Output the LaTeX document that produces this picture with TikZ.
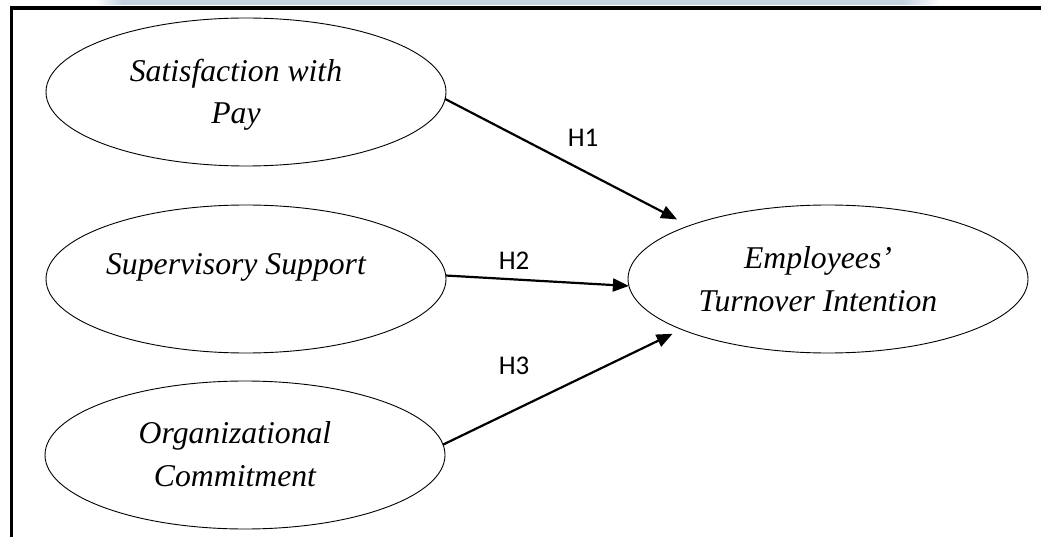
\documentclass[tikz,border=0pt]{standalone}
\usepackage{fontspec}
\setmainfont{Liberation Serif}
\newfontfamily\hfont{Carlito}
\usetikzlibrary{shapes.geometric,arrows.meta}
\definecolor{barblue}{RGB}{197,211,224}
\begin{document}
\begin{tikzpicture}[x=1pt,y=-1pt,
  ov/.style={ellipse,draw,line width=0.9pt,minimum width=400pt,minimum height=148pt,inner sep=0pt,outer sep=0pt},
  ttl/.style={font=\fontsize{31.7}{42.5}\selectfont\itshape,align=center,inner sep=0pt},
  hyp/.style={font=\hfont\fontsize{27}{32}\selectfont,inner sep=0pt},
  link/.style={line width=2.2pt,-{Triangle[length=16pt,width=13pt]}}]
\useasboundingbox (0,0) rectangle (1041,537);
% top bar and frame
\shade[left color=white,right color=barblue] (95,0) rectangle (122,5);
\fill[barblue] (122,0) rectangle (903,5);
\shade[left color=barblue,right color=white] (903,0) rectangle (940,5);
\draw[line width=3.5pt,line join=miter] (11.5,537) -- (11.5,8) -- (1041,8);
% ellipses
\node[ov] (sat) at (246,92) {};
\node[ov] (sup) at (246,279) {};
\node[ov] (org) at (245,455) {};
\node[ov] (emp) at (828,279) {};
\node[ttl] (satT) at (236,95) {Satisfaction with\\Pay};
\node[ttl] (supT) at (236,267) {Supervisory Support};
\node[ttl] (orgT) at (235,454) {Organizational\\Commitment};
\node[ttl] (empT) at (818,279) {Employees’\\Turnover Intention};
% connectors
\draw[link,shorten >=13.7pt] (sat.-2) -- (emp.159.5);
\draw[link] (sup.1) -- (emp.182);
\draw[link,shorten >=10pt] (org.3.7) -- (emp.199.9);
\node[hyp] (h1) at (583,138) {H1};
\node[hyp] (h2) at (514,261) {H2};
\node[hyp] (h3) at (514,366) {H3};
\end{tikzpicture}
\end{document}
